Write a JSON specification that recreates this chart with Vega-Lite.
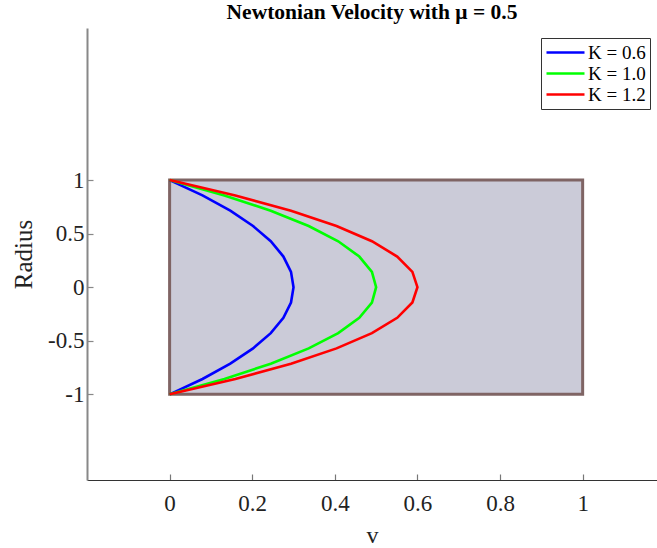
{
  "$schema": "https://vega.github.io/schema/vega-lite/v6.json",
  "width": 570,
  "height": 452,
  "autosize": {"type": "none"},
  "padding": {"left": 87, "top": 28, "right": 0, "bottom": 68},
  "background": "white",
  "config": {
    "view": {"stroke": null},
    "font": "Liberation Serif"
  },
  "title": {
    "text": "Newtonian Velocity with μ = 0.5",
    "font": "Liberation Serif",
    "fontSize": 21.5,
    "fontWeight": "bold",
    "color": "black",
    "offset": 5,
    "anchor": "middle"
  },
  "datasets": {
    "box": [{"x0": 0, "x1": 1, "y0": -1, "y1": 1}],
    "curves": [
      {"K": "K = 0.6", "r": -1.0, "v": 0.0},
      {"K": "K = 0.6", "r": -0.857, "v": 0.0796},
      {"K": "K = 0.6", "r": -0.714, "v": 0.1469},
      {"K": "K = 0.6", "r": -0.571, "v": 0.202},
      {"K": "K = 0.6", "r": -0.429, "v": 0.2449},
      {"K": "K = 0.6", "r": -0.286, "v": 0.2755},
      {"K": "K = 0.6", "r": -0.143, "v": 0.2939},
      {"K": "K = 0.6", "r": 0.0, "v": 0.3},
      {"K": "K = 0.6", "r": 0.143, "v": 0.2939},
      {"K": "K = 0.6", "r": 0.286, "v": 0.2755},
      {"K": "K = 0.6", "r": 0.429, "v": 0.2449},
      {"K": "K = 0.6", "r": 0.571, "v": 0.202},
      {"K": "K = 0.6", "r": 0.714, "v": 0.1469},
      {"K": "K = 0.6", "r": 0.857, "v": 0.0796},
      {"K": "K = 0.6", "r": 1.0, "v": 0.0},
      {"K": "K = 1.0", "r": -1.0, "v": 0.0},
      {"K": "K = 1.0", "r": -0.857, "v": 0.1327},
      {"K": "K = 1.0", "r": -0.714, "v": 0.2449},
      {"K": "K = 1.0", "r": -0.571, "v": 0.3367},
      {"K": "K = 1.0", "r": -0.429, "v": 0.4082},
      {"K": "K = 1.0", "r": -0.286, "v": 0.4592},
      {"K": "K = 1.0", "r": -0.143, "v": 0.4898},
      {"K": "K = 1.0", "r": 0.0, "v": 0.5},
      {"K": "K = 1.0", "r": 0.143, "v": 0.4898},
      {"K": "K = 1.0", "r": 0.286, "v": 0.4592},
      {"K": "K = 1.0", "r": 0.429, "v": 0.4082},
      {"K": "K = 1.0", "r": 0.571, "v": 0.3367},
      {"K": "K = 1.0", "r": 0.714, "v": 0.2449},
      {"K": "K = 1.0", "r": 0.857, "v": 0.1327},
      {"K": "K = 1.0", "r": 1.0, "v": 0.0},
      {"K": "K = 1.2", "r": -1.0, "v": 0.0},
      {"K": "K = 1.2", "r": -0.857, "v": 0.1592},
      {"K": "K = 1.2", "r": -0.714, "v": 0.2939},
      {"K": "K = 1.2", "r": -0.571, "v": 0.4041},
      {"K": "K = 1.2", "r": -0.429, "v": 0.4898},
      {"K": "K = 1.2", "r": -0.286, "v": 0.551},
      {"K": "K = 1.2", "r": -0.143, "v": 0.5878},
      {"K": "K = 1.2", "r": 0.0, "v": 0.6},
      {"K": "K = 1.2", "r": 0.143, "v": 0.5878},
      {"K": "K = 1.2", "r": 0.286, "v": 0.551},
      {"K": "K = 1.2", "r": 0.429, "v": 0.4898},
      {"K": "K = 1.2", "r": 0.571, "v": 0.4041},
      {"K": "K = 1.2", "r": 0.714, "v": 0.2939},
      {"K": "K = 1.2", "r": 0.857, "v": 0.1592},
      {"K": "K = 1.2", "r": 1.0, "v": 0.0}
    ]
  },
  "layer": [
    {
      "data": {"name": "box"},
      "mark": {"type": "rect", "fill": "#cbcbd8", "stroke": "#7f6464", "strokeWidth": 3},
      "encoding": {
        "x": {
          "field": "x0", "type": "quantitative",
          "scale": {"domain": [-0.2, 1.18], "nice": false, "zero": false},
          "axis": {
            "title": "v",
            "values": [0, 0.2, 0.4, 0.6, 0.8, 1],
            "labelExpr": "datum.value + ''",
            "grid": false,
            "domainColor": "#333333",
            "domainWidth": 1.2,
            "tickColor": "#777777",
            "tickSize": -6,
            "tickWidth": 1.2,
            "labelFont": "Liberation Serif",
            "labelFontSize": 23,
            "labelColor": "#222222",
            "labelPadding": 18,
            "titleFont": "Liberation Serif",
            "titleFontSize": 24,
            "titleFontWeight": "normal",
            "titleColor": "#222222",
            "titlePadding": 8
          }
        },
        "x2": {"field": "x1"},
        "y": {
          "field": "y0", "type": "quantitative",
          "scale": {"domain": [-1.8, 2.42], "nice": false, "zero": false},
          "axis": {
            "title": "Radius",
            "values": [-1, -0.5, 0, 0.5, 1],
            "labelExpr": "datum.value + ''",
            "grid": false,
            "domainColor": "#888888",
            "domainWidth": 2,
            "tickColor": "#888888",
            "tickSize": -6,
            "tickWidth": 1.2,
            "labelFont": "Liberation Serif",
            "labelFontSize": 23,
            "labelColor": "#222222",
            "labelPadding": 9,
            "titleFont": "Liberation Serif",
            "titleFontSize": 25,
            "titleFontWeight": "normal",
            "titleColor": "#222222",
            "titlePadding": 11
          }
        },
        "y2": {"field": "y1"}
      }
    },
    {
      "data": {"name": "curves"},
      "mark": {"type": "line", "strokeWidth": 2.6},
      "encoding": {
        "x": {"field": "v", "type": "quantitative"},
        "y": {"field": "r", "type": "quantitative"},
        "order": {"field": "r", "type": "quantitative"},
        "color": {
          "field": "K", "type": "nominal",
          "scale": {"domain": ["K = 0.6", "K = 1.0", "K = 1.2"], "range": ["#0000ff", "#00ff00", "#ff0000"]},
          "legend": {
            "title": null,
            "orient": "none",
            "legendX": 454,
            "legendY": 10,
            "strokeColor": "#333333",
            "fillColor": "white",
            "padding": 4,
            "symbolType": "stroke",
            "symbolStrokeWidth": 2.6,
            "symbolSize": 1444,
            "clipHeight": 21,
            "labelFont": "Liberation Serif",
            "labelFontSize": 19,
            "labelColor": "black",
            "rowPadding": 0,
            "labelOffset": 2
          }
        }
      }
    }
  ]
}
